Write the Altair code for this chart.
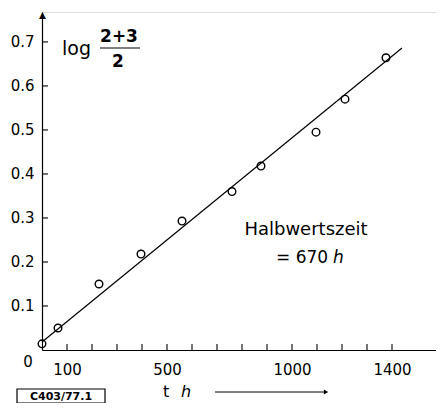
import altair as alt
import pandas as pd

# measured points
t_h = [0, 64, 228, 396, 560, 760, 876, 1096, 1212, 1376]
log_val = [0.014, 0.050, 0.150, 0.218, 0.293, 0.360, 0.418, 0.495, 0.570, 0.664]
# fitted line end points
line_t = [0, 1440]
line_y = [0.018, 0.686]
x_tick_vals = [100, 200, 300, 400, 500, 600, 700, 800, 900, 1000, 1100, 1200, 1300, 1400]
x_label_vals = [100, 500, 1000, 1400]
y_tick_vals = [0.1, 0.2, 0.3, 0.4, 0.5, 0.6, 0.7]

FONT = "DejaVu Sans"
W, H = 394, 338
xs = alt.Scale(domain=[0, 1576], nice=False, zero=False)
ys = alt.Scale(domain=[0, 0.768], nice=False, zero=False)

pts = pd.DataFrame({"t": t_h, "v": log_val})
ln = pd.DataFrame({"t": line_t, "v": line_y})
xt = pd.DataFrame({"t": x_tick_vals})
yt = pd.DataFrame({"v": y_tick_vals})

xaxis = alt.Axis(values=x_label_vals, ticks=False, grid=False, labelPadding=12,
                 labelFontSize=15, labelFont=FONT, labelColor="black", format="d",
                 domainColor="black", domainWidth=1.2, title=None, labelFlush=False)
yaxis = alt.Axis(values=y_tick_vals, ticks=False, grid=False, labelPadding=8,
                 labelFontSize=15, labelFont=FONT, labelColor="black",
                 domainColor="black", domainWidth=1.2, title=None, format=".1f")

base_line = alt.Chart(ln).mark_line(color="black", strokeWidth=1.2).encode(
    x=alt.X("t:Q", scale=xs, axis=xaxis),
    y=alt.Y("v:Q", scale=ys, axis=yaxis),
)
points = alt.Chart(pts).mark_point(shape="circle", filled=False, color="black",
                                   size=58, strokeWidth=1.4, opacity=1).encode(
    x=alt.X("t:Q", scale=xs), y=alt.Y("v:Q", scale=ys))

xticks = alt.Chart(xt).mark_rule(color="black", strokeWidth=1.1).encode(
    x=alt.X("t:Q", scale=xs), y=alt.value(H), y2=alt.value(H - 6))
yticks = alt.Chart(yt).mark_rule(color="black", strokeWidth=1.1).encode(
    y=alt.Y("v:Q", scale=ys), x=alt.value(0), x2=alt.value(6))

def txt(s, x, y, size=15, weight="normal", style="normal", align="left", baseline="alphabetic"):
    return alt.Chart(pd.DataFrame({"s": [s]})).mark_text(
        font=FONT, fontSize=size, fontWeight=weight, fontStyle=style,
        align=align, baseline=baseline, color="black").encode(
        text="s:N", x=alt.value(x), y=alt.value(y))

yarrow = alt.Chart(pd.DataFrame({"s": ["▲"]})).mark_text(
    font=FONT, fontSize=9, color="black", align="center", baseline="middle").encode(
    text="s:N", x=alt.value(0.5), y=alt.value(3))

tarrow_line = alt.Chart(pd.DataFrame({"a": [0]})).mark_rule(color="black", strokeWidth=1).encode(
    x=alt.value(173), x2=alt.value(284), y=alt.value(380))
tarrow_head = alt.Chart(pd.DataFrame({"a": [0]})).mark_point(
    shape="triangle-right", filled=True, color="black", size=24, opacity=1).encode(
    x=alt.value(284), y=alt.value(380))

fracbar = alt.Chart(pd.DataFrame({"a": [0]})).mark_rule(color="black", strokeWidth=1).encode(
    x=alt.value(58), x2=alt.value(98), y=alt.value(36))

box = alt.Chart(pd.DataFrame({"a": [0]})).mark_rect(
    fill="white", stroke="black", strokeWidth=1.2).encode(
    x=alt.value(-25), x2=alt.value(63), y=alt.value(377), y2=alt.value(391))

layers = [
    base_line, points, xticks, yticks,
    txt("0", -14, 350, baseline="middle", align="center"),
    txt("log", 20, 43, size=19),
    txt("2+3", 77, 30, size=17, weight="bold", align="center"),
    fracbar,
    txt("2", 76, 55, size=17, weight="bold", align="center"),
    txt("Halbwertszeit", 264, 218, size=18, align="center", baseline="middle"),
    txt("= 670", 234, 246, size=17, align="left", baseline="middle"),
    txt("h", 291, 246, size=17, style="italic", align="left", baseline="middle"),
    txt("t", 121, 380, size=16, align="left", baseline="middle"),
    txt("h", 139, 380, size=16, style="italic", align="left", baseline="middle"),
    tarrow_line, tarrow_head,
    box,
    txt("C403/77.1", 19, 384.5, size=11, weight="bold", align="center", baseline="middle"),
    yarrow,
]

chart = alt.layer(*layers).properties(
    width=W, height=H,
    autosize=alt.AutoSizeParams(type="none"),
    padding={"left": 34, "top": 4, "right": 0, "bottom": 53},
).configure_view(stroke=None).configure(background="white")

chart.save("out.html", embed_options={"renderer": "svg", "actions": False})
